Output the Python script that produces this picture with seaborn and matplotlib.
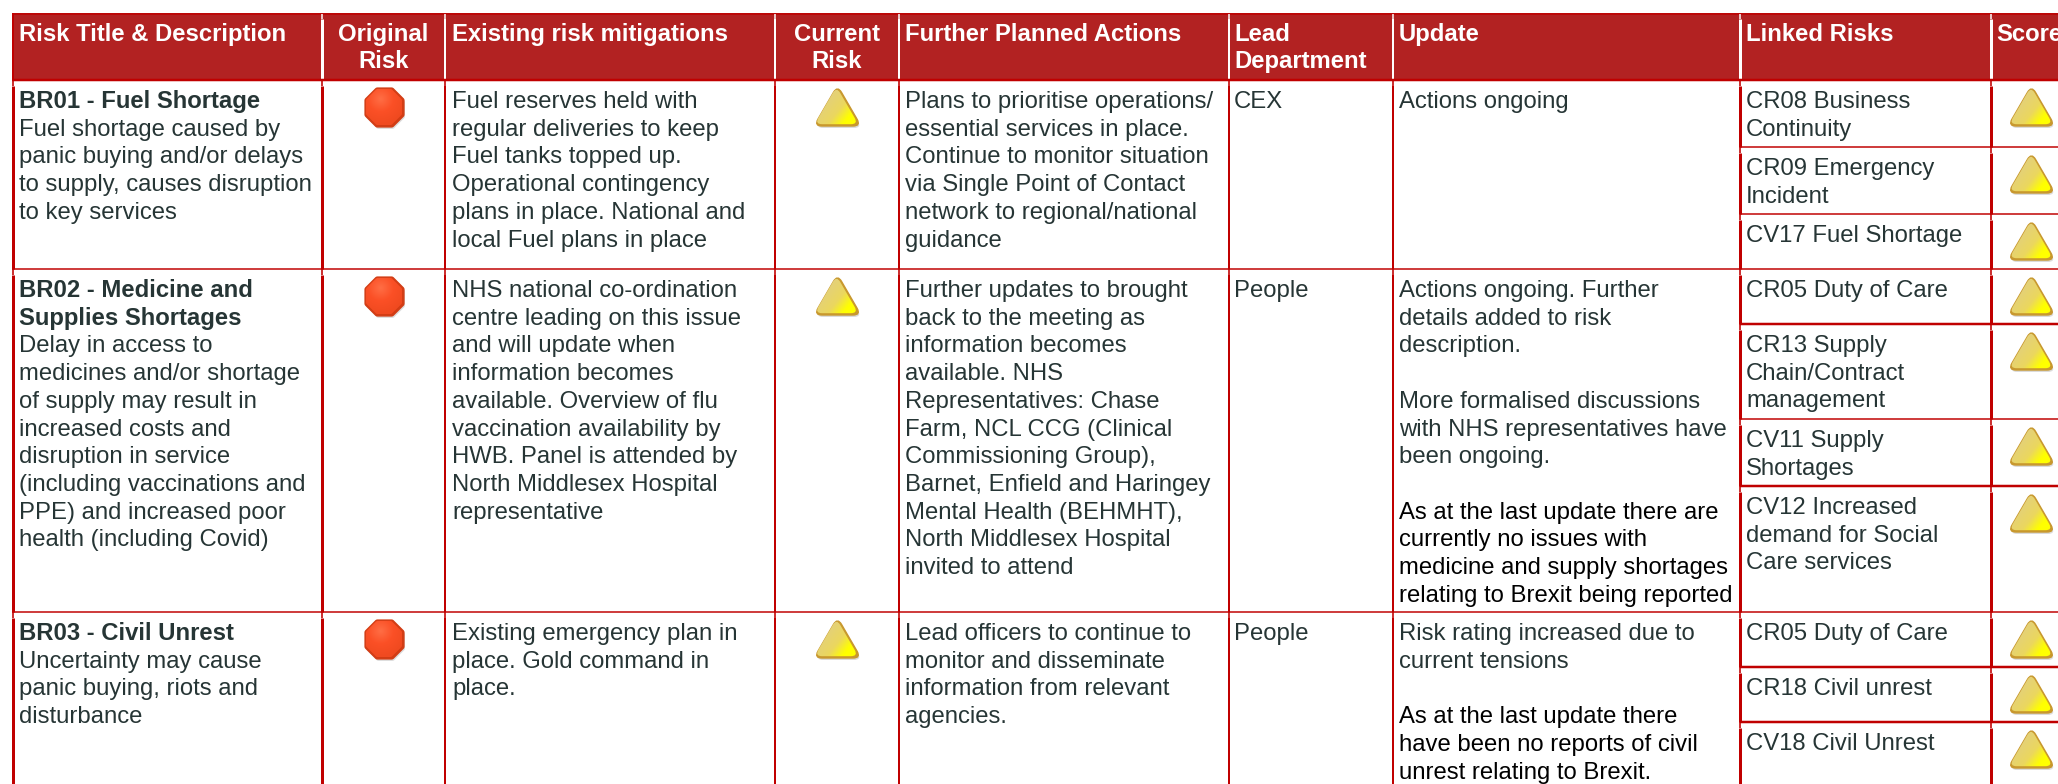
import numpy as np
import pandas as pd
import matplotlib
matplotlib.use('Agg')
import matplotlib.pyplot as plt
from matplotlib.colors import LinearSegmentedColormap
from matplotlib.patches import PathPatch
from matplotlib.path import Path
import seaborn as sns

headers = [
	['Risk Title & Description'], ['Original', 'Risk'], ['Existing risk mitigations'],
	['Current', 'Risk'], ['Further Planned Actions'], ['Lead', 'Department'],
	['Update'], ['Linked Risks'], ['Score'],
]
header_centered = [False, True, False, True, False, False, False, False, False]

titles = [
	['BR01 - Fuel Shortage'],
	['BR02 - Medicine and', 'Supplies Shortages'],
	['BR03 - Civil Unrest'],
]
descriptions = [
	['Fuel shortage caused by', 'panic buying and/or delays', 'to supply, causes disruption', 'to key services'],
	['Delay in access to', 'medicines and/or shortage', 'of supply may result in', 'increased costs and',
	 'disruption in service', '(including vaccinations and', 'PPE) and increased poor', 'health (including Covid)'],
	['Uncertainty may cause', 'panic buying, riots and', 'disturbance'],
]
mitigations = [
	['Fuel reserves held with', 'regular deliveries to keep', 'Fuel tanks topped up.', 'Operational contingency',
	 'plans in place. National and', 'local Fuel plans in place'],
	['NHS national co-ordination', 'centre leading on this issue', 'and will update when', 'information becomes',
	 'available. Overview of flu', 'vaccination availability by', 'HWB. Panel is attended by',
	 'North Middlesex Hospital', 'representative'],
	['Existing emergency plan in', 'place. Gold command in', 'place.'],
]
actions = [
	['Plans to prioritise operations/', 'essential services in place.', 'Continue to monitor situation',
	 'via Single Point of Contact', 'network to regional/national', 'guidance'],
	['Further updates to brought', 'back to the meeting as', 'information becomes', 'available. NHS',
	 'Representatives: Chase', 'Farm, NCL CCG (Clinical', 'Commissioning Group),', 'Barnet, Enfield and Haringey',
	 'Mental Health (BEHMHT),', 'North Middlesex Hospital', 'invited to attend'],
	['Lead officers to continue to', 'monitor and disseminate', 'information from relevant', 'agencies.'],
]
departments = ['CEX', 'People', 'People']
updates = [
	['Actions ongoing'],
	['Actions ongoing. Further', 'details added to risk', 'description.', '',
	 'More formalised discussions', 'with NHS representatives have', 'been ongoing.'],
	['Risk rating increased due to', 'current tensions'],
]
update_notes = [
	[],
	['As at the last update there are', 'currently no issues with',
	 'medicine and supply shortages', 'relating to Brexit being reported'],
	['As at the last update there', 'have been no reports of civil', 'unrest relating to Brexit.'],
]
linked_risks = [
	['CR08 Business', 'Continuity'], ['CR09 Emergency', 'Incident'], ['CV17 Fuel Shortage'],
	['CR05 Duty of Care'], ['CR13 Supply', 'Chain/Contract', 'management'], ['CV11 Supply', 'Shortages'],
	['CV12 Increased', 'demand for Social', 'Care services'],
	['CR05 Duty of Care'], ['CR18 Civil unrest'], ['CV18 Civil Unrest'],
]
original_risk = ['red', 'red', 'red']
current_risk = ['amber', 'amber', 'amber']
linked_score = ['amber'] * 10

# layout, in pixels of the picture
W, H = 2058, 784
col_x = [13, 322, 445, 775, 899, 1229, 1393, 1740, 1991]
col_lw = [3, 3, 2, 2, 2, 2, 2, 3, 3]
text_x = [19, None, 452, None, 905, 1234, 1399, 1746, 1996]
row_y = [80, 269, 612, H + 30]
sub_y = [80, 147, 214, 269, 324, 419, 486, 612, 667, 722, H + 30]
sub_lw = [2, 1.5, 1.5, 1.5, 2.5, 1.5, 2.5, 1.5, 2.5, 2.5]
LINE = 27.7
FS = 23.9 * 0.72
RED = '#C00000'
BAND = '#B22222'
INK = '#263535'
px = 0.72

amber_map = LinearSegmentedColormap.from_list(
	'amber', [(0, '#E2CF80'), (0.55, '#EBD75E'), (0.88, '#FFFF00'), (1, '#FFFF00')])
red_map = LinearSegmentedColormap.from_list('red', ['#FF6E45', '#FB5026', '#F04A20'])


def rounded(verts, r):
	# closed polygon with the corners cut by quadratic curves
	verts = np.array(verts, float)
	n = len(verts)
	out, codes = [], []
	for i in range(n):
		p, a, b = verts[i], verts[i - 1], verts[(i + 1) % n]
		p1 = p + (a - p) / np.linalg.norm(a - p) * r
		p2 = p + (b - p) / np.linalg.norm(b - p) * r
		out += [p1, p, p2]
		codes += [Path.MOVETO if i == 0 else Path.LINETO, Path.CURVE3, Path.CURVE3]
	out.append(out[0])
	codes.append(Path.CLOSEPOLY)
	return Path(np.array(out), codes)


angles = np.deg2rad(np.arange(22.5, 360, 45))
shapes = {
	'amber': rounded([(0, -22), (23.5, 18.5), (-23.5, 18.5)], 8),
	'red': rounded(np.c_[np.cos(angles), np.sin(angles)] * 21, 1),
}
edge = {'amber': '#C8982E', 'red': '#D23C14'}
maps = {'amber': amber_map, 'red': red_map}


def draw_icons(ax, df):
	# shadow and outline through seaborn, gradient fill clipped on top
	for level, part in df.groupby('level'):
		shape = shapes[level]
		marker = Path(shape.vertices * [1, -1], shape.codes)
		s = (2 * np.abs(shape.vertices).max() * px) ** 2
		sns.scatterplot(x=part['x'] + 1, y=part['y'] + 1.5, marker=marker, s=s, color='#9a9a9a', alpha=0.35,
						linewidth=0, ax=ax, zorder=3, legend=False)
		sns.scatterplot(data=part, x='x', y='y', marker=marker, s=s, color=edge[level], edgecolor=edge[level],
						linewidth=1, ax=ax, zorder=4, legend=False)
		for cx, cy in zip(part['x'], part['y']):
			gx, gy = np.meshgrid(np.linspace(0, 1, 60), np.linspace(0, 1, 60))
			if level == 'amber':
				grad = np.clip((gx + 0.8 * gy - 0.45) / 1.0, 0, 1)
			else:
				grad = np.clip(np.hypot(gx - 0.4, gy - 0.3) * 1.5, 0, 1)
			r = np.abs(shape.vertices).max()
			inner = Path(shape.vertices * 0.93 + [cx, cy], shape.codes)
			im = ax.imshow(grad, extent=(cx - r, cx + r, cy + r, cy - r), cmap=maps[level], vmin=0, vmax=1,
						   aspect='auto', zorder=5, interpolation='bilinear')
			im.set_clip_path(PathPatch(inner, transform=ax.transData))


def put_lines(ax, x, top, lines, start=0, **kw):
	kw.setdefault('color', INK)
	for i, line in enumerate(lines):
		if line:
			ax.text(x, top + 28 + (start + i) * LINE, line, fontsize=FS, va='baseline', zorder=6, **kw)


sns.set_theme(style='white')
plt.rcParams['font.family'] = ['Liberation Sans', 'DejaVu Sans']

fig = plt.figure(figsize=(W / 100, H / 100), dpi=100, facecolor='white')
ax = fig.add_axes([0, 0, 1, 1])
ax.axis('off')

# header band
ax.fill_between([13, W], 13, 80, color=BAND, linewidth=0, zorder=1)
ax.hlines(13.5, 12, W, color=RED, linewidth=1.5 * px, zorder=2)
for x, lw in zip(col_x[1:], col_lw[1:]):
	ax.vlines(x, 14, 19, color='white', linewidth=1.5 * px, zorder=2)
	ax.vlines(x, 19, 80, color='white', linewidth=lw * px, zorder=2)
ax.vlines(13, 13, 80, color=RED, linewidth=2 * px, zorder=2)

# rules
ax.hlines(80, 12, W, color=RED, linewidth=2.5 * px, zorder=2)
for y in row_y[1:-1]:
	ax.hlines(y, 12, W, color=RED, linewidth=1.5 * px, zorder=2)
for y, lw in zip(sub_y[1:-1], sub_lw[1:]):
	if y not in row_y:
		ax.hlines(y, col_x[7], W, color=RED, linewidth=lw * px, zorder=2)
for i, (x, lw) in enumerate(zip(col_x, col_lw)):
	tops = sub_y if i >= 7 else row_y
	for a, b in zip(tops[:-1], tops[1:]):
		ax.vlines(x, a, a + 6, color=RED, linewidth=1.6 * px, zorder=2)
		ax.vlines(x, a + 6, b, color=RED, linewidth=lw * px, zorder=2)

# header text
for i, lines in enumerate(headers):
	for j, line in enumerate(lines):
		if header_centered[i]:
			cx = (col_x[i] + col_x[i + 1]) / 2
			ax.text(cx, 40.5 + j * 27, line, color='white', fontsize=FS, fontweight='bold', ha='center', va='baseline', zorder=6)
		else:
			ax.text(text_x[i], 40.5 + j * 27, line, color='white', fontsize=FS, fontweight='bold', va='baseline', zorder=6)

# body text
for r in range(3):
	top = row_y[r]
	put_lines(ax, text_x[0], top, titles[r], fontweight='bold')
	put_lines(ax, text_x[0], top, descriptions[r], start=len(titles[r]))
	put_lines(ax, text_x[2], top, mitigations[r])
	put_lines(ax, text_x[4], top, actions[r])
	put_lines(ax, text_x[5], top, [departments[r]])
	put_lines(ax, text_x[6], top, updates[r])
	put_lines(ax, text_x[6], top, update_notes[r], start=len(updates[r]) + 1, color='black')
for s, lines in enumerate(linked_risks):
	put_lines(ax, text_x[7], sub_y[s], lines)

# risk icons
icons = pd.DataFrame({
	'x': [(col_x[1] + col_x[2]) / 2 + 0.5] * 3 + [(col_x[3] + col_x[4]) / 2 - 0.5] * 3 + [2031] * 10,
	'y': [row_y[r] + 27 for r in range(3)] * 2 + [sub_y[s] + 27 for s in range(10)],
	'level': original_risk + current_risk + linked_score,
})
draw_icons(ax, icons)

ax.set_xlim(0, W)
ax.set_ylim(H, 0)
fig.savefig('out.png', dpi=100)
